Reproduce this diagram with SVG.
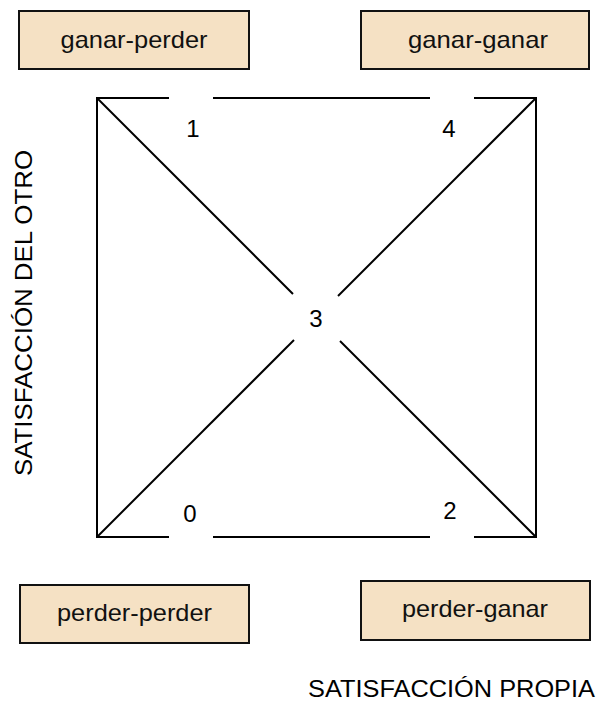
<svg xmlns="http://www.w3.org/2000/svg" width="599" height="702" viewBox="0 0 599 702">
<style>
.box{fill:#F5E1C4;stroke:#111;stroke-width:2}
.bt{font-family:"Liberation Sans",Arial,sans-serif;font-size:24px;fill:#111;text-anchor:middle}
.num{font-family:"Liberation Sans",Arial,sans-serif;font-size:24px;fill:#000;text-anchor:middle}
.ax{font-family:"Liberation Sans",Arial,sans-serif;font-size:23px;fill:#000}
.ln{stroke:#000;stroke-width:2;fill:none;stroke-linecap:butt}
</style>
<rect width="599" height="702" fill="#fff"/>
<g id="connectors">
<line class="ln" x1="97" y1="98" x2="169" y2="98"/>
<line class="ln" x1="213" y1="98" x2="430" y2="98"/>
<line class="ln" x1="474" y1="98" x2="537" y2="98"/>
<line class="ln" x1="97" y1="537" x2="169" y2="537"/>
<line class="ln" x1="213" y1="537" x2="430" y2="537"/>
<line class="ln" x1="474" y1="537" x2="537" y2="537"/>
<line class="ln" x1="97" y1="97" x2="97" y2="538"/>
<line class="ln" x1="536" y1="97" x2="536" y2="538"/>
<line class="ln" x1="97" y1="98" x2="293" y2="294"/>
<line class="ln" x1="340" y1="341" x2="536" y2="537"/>
<line class="ln" x1="536" y1="98" x2="338" y2="296"/>
<line class="ln" x1="294" y1="340" x2="97" y2="537"/>
</g>
<g id="node-ganar-perder">
<rect class="box" x="19" y="11" width="230" height="58"/>
<text class="bt" x="134" y="48" textLength="147" lengthAdjust="spacingAndGlyphs">ganar-perder</text>
</g>
<g id="node-ganar-ganar">
<rect class="box" x="361" y="11" width="228" height="58"/>
<text class="bt" x="478" y="48" textLength="140" lengthAdjust="spacingAndGlyphs">ganar-ganar</text>
</g>
<g id="node-perder-perder">
<rect class="box" x="20" y="585" width="229" height="58"/>
<text class="bt" x="134.5" y="621" textLength="155" lengthAdjust="spacingAndGlyphs">perder-perder</text>
</g>
<g id="node-perder-ganar">
<rect class="box" x="361" y="581" width="229" height="59"/>
<text class="bt" x="475" y="617" textLength="146" lengthAdjust="spacingAndGlyphs">perder-ganar</text>
</g>
<g id="labels">
<text class="num" x="193" y="137">1</text>
<text class="num" x="449" y="137">4</text>
<text class="num" x="316" y="327">3</text>
<text class="num" x="190" y="522">0</text>
<text class="num" x="450" y="519">2</text>
<text class="ax" x="308" y="697" textLength="287" lengthAdjust="spacingAndGlyphs">SATISFACCIÓN PROPIA</text>
<text class="ax" transform="translate(32 476) rotate(-90)" x="0" y="0" textLength="326" lengthAdjust="spacingAndGlyphs">SATISFACCIÓN DEL OTRO</text>
</g>
</svg>
